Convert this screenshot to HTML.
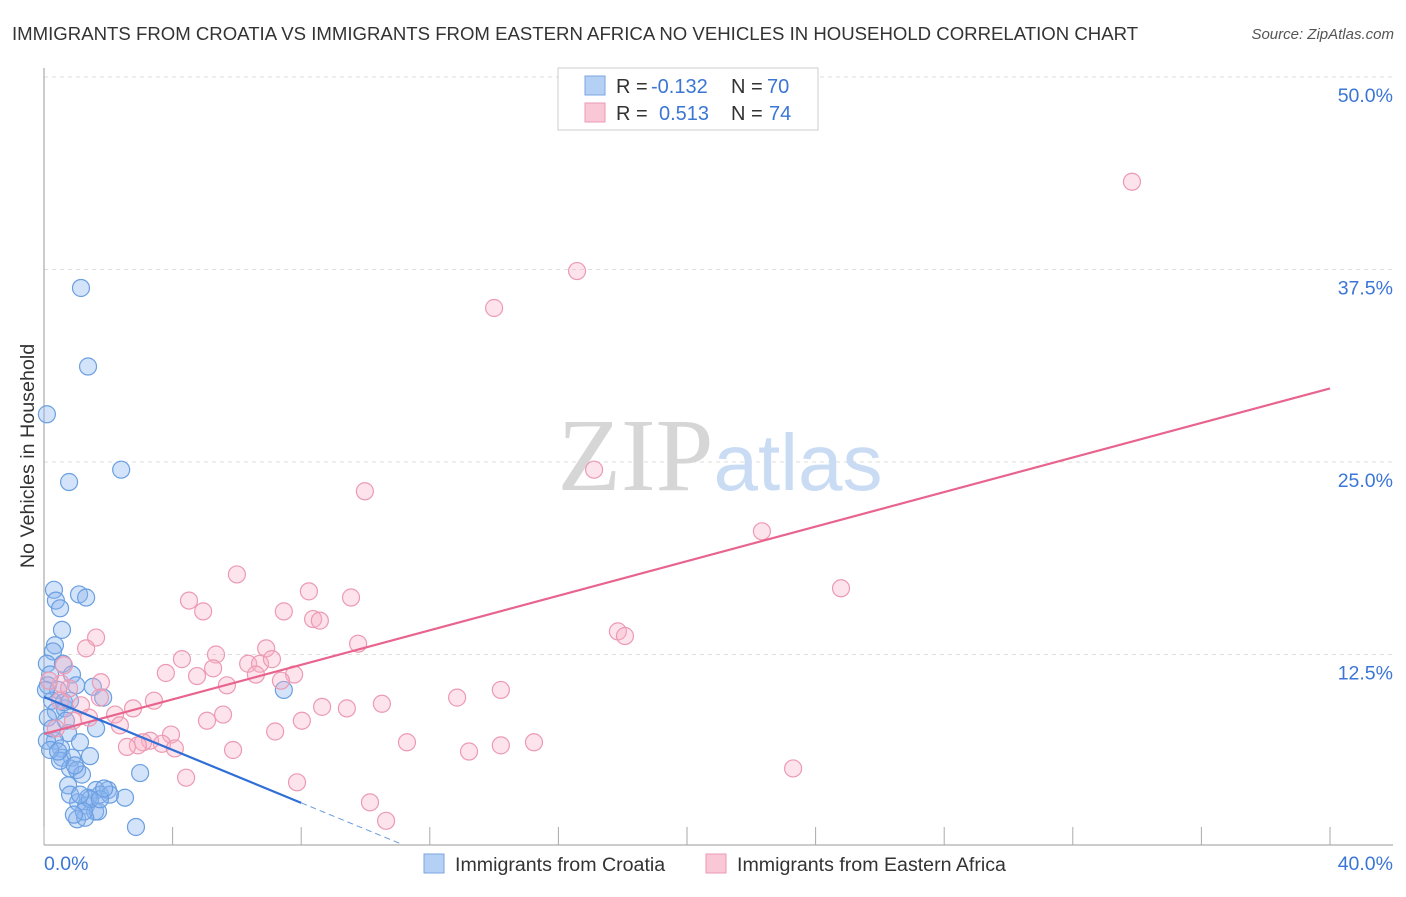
<!DOCTYPE html>
<html><head><meta charset="utf-8"><style>
body{margin:0;background:#fff;font-family:"Liberation Sans",sans-serif;}
svg text{font-family:"Liberation Sans",sans-serif;}
</style></head><body>
<svg id="chart" width="1406" height="892" viewBox="0 0 1406 892" xmlns="http://www.w3.org/2000/svg">
<text x="12" y="40" font-size="18.6" fill="#333">IMMIGRANTS FROM CROATIA VS IMMIGRANTS FROM EASTERN AFRICA NO VEHICLES IN HOUSEHOLD CORRELATION CHART</text>
<text x="1394" y="39" font-size="15" fill="#555" text-anchor="end" font-style="italic">Source: ZipAtlas.com</text>
<g id="grid"></g>
<text x="720" y="490" font-size="104" text-anchor="middle"><tspan fill="#d6d6d6" font-family="Liberation Serif">ZIP</tspan><tspan fill="#c9dcf3" font-size="80">atlas</tspan></text>
<text transform="translate(34,456) rotate(-90)" font-size="19.7" fill="#333" text-anchor="middle">No Vehicles in Household</text>
<g id="marks"></g>
<g>
<rect x="558" y="68" width="260" height="62" fill="#fff" stroke="#ccc"/>
<rect x="585" y="76" width="20" height="19" fill="#b5d0f5" stroke="#7aa6e0"/>
<rect x="585" y="103" width="20" height="19" fill="#f9c7d6" stroke="#ec9ab4"/>
<text x="616" y="93" font-size="20" fill="#333">R =</text>
<text x="651" y="93" font-size="20" fill="#3b76d6">-0.132</text>
<text x="731" y="93" font-size="20" fill="#333">N =</text>
<text x="767" y="93" font-size="20" fill="#3b76d6">70</text>
<text x="616" y="120" font-size="20" fill="#333">R =</text>
<text x="659" y="120" font-size="20" fill="#3b76d6">0.513</text>
<text x="731" y="120" font-size="20" fill="#333">N =</text>
<text x="769" y="120" font-size="20" fill="#3b76d6">74</text>
</g>
<g>
<rect x="424" y="854" width="20" height="19" fill="#b5d0f5" stroke="#7aa6e0"/>
<text x="455" y="871" font-size="19.6" fill="#333">Immigrants from Croatia</text>
<rect x="706" y="854" width="20" height="19" fill="#f9c7d6" stroke="#ec9ab4"/>
<text x="737" y="871" font-size="19.6" fill="#333">Immigrants from Eastern Africa</text>
</g>
</svg>
<script>
const blueX=[1.15,1.37,0.09,2.4,0.78,0.31,0.37,0.5,1.09,1.31,0.56,0.34,0.28,0.09,0.59,0.87,0.19,0.12,0.44,1.0,1.52,1.84,7.46,0.25,0.37,0.65,0.12,0.75,1.62,0.34,1.12,0.53,0.56,0.87,1.43,0.81,1.03,1.18,0.5,0.96,2.99,0.75,1.62,1.99,1.74,1.37,2.52,1.06,0.81,1.31,1.59,1.68,1.03,1.28,2.86,0.09,0.25,0.19,0.44,0.68,2.05,1.43,1.24,0.93,1.74,1.87,1.12,0.62,0.81,0.06];
const blueY=[36.3,31.2,28.1,24.5,23.7,16.7,16.0,15.5,16.4,16.2,14.1,13.1,12.7,11.9,11.9,11.2,11.2,10.5,10.2,10.5,10.4,9.7,10.2,9.5,8.8,9.0,8.4,7.4,7.7,6.9,6.8,6.4,5.8,5.8,5.9,5.1,5.0,4.7,5.6,5.3,4.8,4.0,3.7,3.7,3.4,3.2,3.2,2.9,3.4,2.7,2.3,2.3,1.8,1.9,1.3,6.9,7.7,6.3,6.2,8.2,3.4,3.1,2.3,2.1,3.1,3.8,3.4,9.4,9.5,10.2];
const pinkX=[33.84,16.58,14.0,17.11,9.98,22.33,24.79,6.0,8.24,9.55,4.51,4.95,7.46,8.37,8.58,17.85,18.07,1.62,9.77,1.31,6.91,4.29,5.35,6.35,6.72,7.09,3.79,4.76,5.26,6.59,7.78,5.69,7.37,1.77,0.53,0.78,14.21,12.85,3.42,2.77,1.15,8.65,9.42,10.51,5.57,5.07,8.02,2.21,1.4,2.36,7.19,3.95,3.3,3.08,2.92,3.67,2.58,4.07,5.88,11.29,15.24,14.21,13.22,23.3,4.42,7.87,10.14,10.64,0.37,0.9,0.5,1.74,0.16,0.62];
const pinkY=[43.2,37.4,35.0,24.5,23.1,20.5,16.8,17.7,16.6,16.2,16.0,15.3,15.3,14.8,14.7,14.0,13.7,13.6,13.2,12.9,12.9,12.2,12.5,11.9,11.9,12.2,11.3,11.1,11.6,11.2,11.2,10.5,10.8,10.7,10.6,10.3,10.2,9.7,9.5,9.0,9.2,9.1,9.0,9.3,8.6,8.2,8.2,8.6,8.4,7.9,7.5,7.3,6.9,6.8,6.6,6.7,6.5,6.4,6.3,6.8,6.8,6.6,6.2,5.1,4.5,4.2,2.9,1.7,7.7,8.2,9.5,9.7,10.8,11.8];
const yTicks=[12.5,25.0,37.5,50.0];
const xTicks=[0,4,8,12,16,20,24,28,32,36,40];
const blueTrend=[9.74,-0.859];  // intercept, slope
const pinkTrend=[7.34,0.561];
const NS='http://www.w3.org/2000/svg';
const X=v=>44+v*1286/40, Y=v=>847-v*15.4;
function mk(p,tag,at){const e=document.createElementNS(NS,tag);for(const k in at)e.setAttribute(k,at[k]);p.appendChild(e);return e;}
const grid=document.getElementById('grid'), marks=document.getElementById('marks');
yTicks.forEach(t=>{
  const l=mk(grid,'line',{x1:44,x2:1393,y1:Y(t),y2:Y(t),stroke:'#ddd','stroke-dasharray':'4,4'});
  
  
  const tx=mk(grid,'text',{x:1393,y:Y(t)+25,'font-size':19.5,fill:'#3b76d6','text-anchor':'end'});
  tx.textContent=t.toFixed(1)+'%';
  
  
});
const ax=mk(grid,'line',{x1:44,x2:44,y1:68,y2:845,stroke:'#999'});


const bx=mk(grid,'line',{x1:44,x2:1393,y1:845,y2:845,stroke:'#999'});


xTicks.forEach(t=>{
  const l=mk(grid,'line',{x1:X(t),x2:X(t),y1:827,y2:845,stroke:'#aaa'});
  
  
});
[[0,'start',44],[40,'end',1393]].forEach(([t,a,px])=>{
  const tx=mk(grid,'text',{x:px,y:870,'font-size':19.5,fill:'#3b76d6','text-anchor':a});
  tx.textContent=t.toFixed(1)+'%';
  
  
});
blueX.forEach((x,i)=>{
  const c=mk(marks,'circle',{cx:X(x),cy:Y(blueY[i]),r:8.5,fill:'rgba(140,182,240,0.38)',stroke:'#6a9fe0','stroke-width':1.2});
  
  
});
pinkX.forEach((x,i)=>{
  const c=mk(marks,'circle',{cx:X(x),cy:Y(pinkY[i]),r:8.5,fill:'rgba(248,175,198,0.35)',stroke:'#ec9ab4','stroke-width':1.2});
  
  
});
const pl=mk(marks,'line',{x1:X(0),y1:Y(pinkTrend[0]),x2:X(40),y2:Y(pinkTrend[0]+pinkTrend[1]*40),stroke:'#e8648e','stroke-width':2.2});


const bl=mk(marks,'line',{x1:X(0),y1:Y(blueTrend[0]),x2:X(8),y2:Y(blueTrend[0]+blueTrend[1]*8),stroke:'#2f6fd6','stroke-width':2.2});


const bd=mk(marks,'line',{x1:X(8),y1:Y(blueTrend[0]+blueTrend[1]*8),x2:X(11.05),y2:Y(blueTrend[0]+blueTrend[1]*11.05),stroke:'#6a9fe0','stroke-width':1,'stroke-dasharray':'6,4'});


</script>
</body></html>
